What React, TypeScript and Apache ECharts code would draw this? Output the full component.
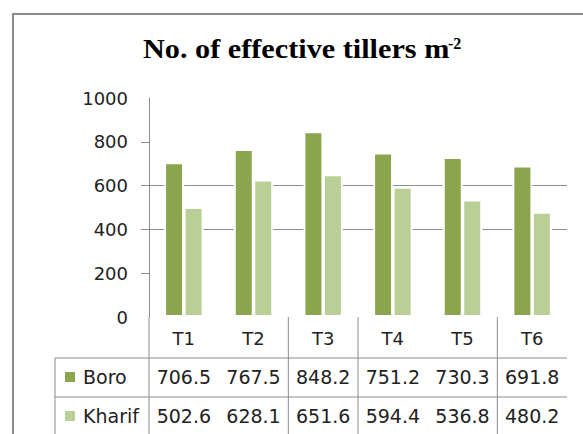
import React, { useEffect, useRef } from "react";
import * as echarts from "echarts";

const categories = ["T1", "T2", "T3", "T4", "T5", "T6"];
const seriesNames = ["Boro", "Kharif"];
const boro = [706.5, 767.5, 848.2, 751.2, 730.3, 691.8];
const kharif = [502.6, 628.1, 651.6, 594.4, 536.8, 480.2];
const yTicks = [0, 200, 400, 600, 800, 1000];

const COLORS = ["#8aa54b", "#b9cf96"];
const GRID_COLOR = "#8c8c8c";
const TEXT = "#222222";
const SANS = "'DejaVu Sans', sans-serif";

export default function App() {
  const ref = useRef<HTMLDivElement>(null);
  useEffect(() => {
    if (!ref.current) return;
    const chart = echarts.init(ref.current, undefined, { renderer: "svg" });
    const seriesData = [boro, kharif];
    chart.setOption({
      animation: false,
      backgroundColor: "#ffffff",
      grid: { left: 149, right: 16, top: 98, bottom: 117, containLabel: false },
      xAxis: {
        type: "category",
        data: categories,
        axisLine: { show: false },
        axisTick: { show: false },
        axisLabel: { fontFamily: SANS, fontSize: 18, color: TEXT, margin: 12 },
      },
      yAxis: {
        type: "value",
        min: yTicks[0],
        max: yTicks[yTicks.length - 1],
        interval: 200,
        axisLine: { show: true, lineStyle: { color: GRID_COLOR, width: 1 } },
        axisTick: {
          show: true,
          length: 8,
          customValues: yTicks.slice(1, -1),
          lineStyle: { color: GRID_COLOR, width: 1 },
        },
        splitLine: {
          show: true,
          showMinLine: false,
          showMaxLine: false,
          lineStyle: { color: GRID_COLOR, width: 1 },
        },
        axisLabel: {
          fontFamily: SANS,
          fontSize: 18,
          color: TEXT,
          margin: 21,
          formatter: (v: number) => String(v),
        },
      },
      series: seriesNames.map((name, i) => ({
        name,
        type: "bar",
        data: seriesData[i],
        barWidth: 20,
        barGap: "-2.5%",
        itemStyle: { color: COLORS[i], borderColor: "#ffffff", borderWidth: 2 },
      })),
    });

    const centers = categories.map((c) => chart.convertToPixel({ xAxisIndex: 0 }, c) as number);
    const bw = centers[1] - centers[0];
    const bounds = [centers[0] - bw / 2, ...centers.map((c) => c + bw / 2)];
    const yZero = chart.convertToPixel({ yAxisIndex: 0 }, 0) as number;
    const rowTop = 358;
    const rowMid = 397;
    const bottom = 440;
    const tableLeft = 55;
    const rowCenters = [377, 416];
    const lineStyle = { stroke: GRID_COLOR, lineWidth: 1 };
    const graphics: any[] = [];

    graphics.push({
      type: "rect",
      silent: true,
      shape: { x: 13, y: 14, width: 640, height: 480 },
      style: { fill: "none", stroke: "#8c8c8c", lineWidth: 2 },
    });
    graphics.push({
      type: "text",
      x: 143,
      y: 49,
      scaleX: 1.12,
      style: {
        text: "No. of effective tillers m",
        fontFamily: "'Liberation Serif', 'Times New Roman', serif",
        fontWeight: "bold",
        fontSize: 27,
        fill: "#000000",
        textAlign: "left",
        textVerticalAlign: "middle",
      },
    });
    graphics.push({
      type: "text",
      x: 448,
      y: 43,
      style: {
        text: "-2",
        fontFamily: "'Liberation Serif', 'Times New Roman', serif",
        fontWeight: "bold",
        fontSize: 16,
        fill: "#000000",
        textAlign: "left",
        textVerticalAlign: "middle",
      },
    });

    [rowTop, rowMid].forEach((y) =>
      graphics.push({
        type: "line",
        silent: true,
        shape: { x1: tableLeft, y1: y, x2: bounds[bounds.length - 1], y2: y },
        style: lineStyle,
      })
    );
    graphics.push({
      type: "line",
      silent: true,
      shape: { x1: tableLeft, y1: rowTop, x2: tableLeft, y2: bottom },
      style: lineStyle,
    });
    [0, 2, 3, 5].forEach((bi) =>
      graphics.push({
        type: "line",
        silent: true,
        shape: { x1: bounds[bi], y1: yZero, x2: bounds[bi], y2: bottom },
        style: lineStyle,
      })
    );

    seriesNames.forEach((name, si) => {
      const cy = rowCenters[si];
      graphics.push({
        type: "rect",
        silent: true,
        shape: { x: 65, y: cy - 5, width: 10, height: 10 },
        style: { fill: COLORS[si] },
      });
      graphics.push({
        type: "text",
        x: 83,
        y: cy,
        style: {
          text: name,
          fontFamily: SANS,
          fontSize: 19,
          fill: TEXT,
          textAlign: "left",
          textVerticalAlign: "middle",
        },
      });
      seriesData[si].forEach((v, ci) =>
        graphics.push({
          type: "text",
          x: centers[ci],
          y: cy,
          style: {
            text: v.toFixed(1),
            fontFamily: SANS,
            fontSize: 19,
            fill: TEXT,
            textAlign: "center",
            textVerticalAlign: "middle",
          },
        })
      );
    });

    chart.setOption({ graphic: { elements: graphics } });
    return () => chart.dispose();
  }, []);

  return (
    <div
      ref={ref}
      style={{ position: "fixed", left: 0, top: 0, width: 583, height: 434, background: "#fff" }}
    />
  );
}
